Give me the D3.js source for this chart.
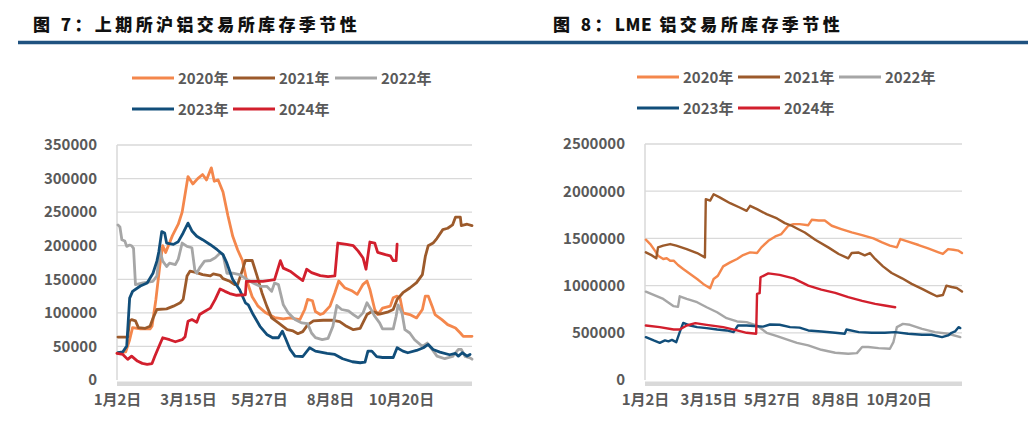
<!DOCTYPE html>
<html><head><meta charset="utf-8">
<script src="https://cdn.jsdelivr.net/npm/d3@7"></script>
<style>
body{margin:0;background:#fff}
svg{display:block;font-family:"Noto Sans CJK SC","Noto Sans",sans-serif}
</style>
</head><body>
<svg id="c" width="1028" height="433"></svg>
<script>
// ---------- data ----------
const years = ["2020年","2021年","2022年","2023年","2024年"];
const colors = ["#F4874C","#9C5A2B","#A6A6A6","#114E7A","#D21F2D"];
const xTickDays = [0,73,146,219,292];
const xTickLabels = ["1月2日","3月15日","5月27日","8月8日","10月20日"];
const shfeTicks = [0,50000,100000,150000,200000,250000,300000,350000];
const lmeTicks = [0,500000,1000000,1500000,2000000,2500000];

// SHFE aluminium stocks: [day since Jan 2, tonnes]
const shfe2020 = [[0,40000],[9,42000],[13,60000],[16,78000],[24,76000],[34,76000],[36,80000],[40,120000],[44,170000],[47,200000],[50,190000],[57,215000],[63,232000],[67,250000],[73,303000],[78,292000],[83,300000],[88,306000],[92,298000],[97,316000],[100,296000],[104,298000],[109,280000],[114,245000],[119,214000],[124,194000],[129,178000],[133,150000],[139,124000],[145,110000],[153,100000],[162,93000],[171,91000],[178,92500],[188,90000],[193,105000],[196,120000],[201,118000],[204,102000],[209,97500],[212,99000],[219,110000],[224,130000],[228,147500],[234,137500],[242,132500],[247,127500],[250,135000],[253,142500],[257,147500],[260,135000],[265,105000],[268,97500],[273,107000],[281,110000],[284,122500],[288,125000],[291,122000],[294,100000],[301,97500],[308,92500],[314,105000],[317,125000],[320,125000],[324,110000],[327,97500],[334,90000],[340,82500],[348,77500],[353,70000],[356,65000],[365,65000]];
const shfe2021 = [[1,64000],[11,64000],[13,88000],[15,90000],[19,88000],[22,78000],[29,77000],[34,80000],[37,92000],[41,105000],[51,106000],[58,110000],[65,115000],[68,120000],[72,155000],[75,162000],[82,160000],[88,157000],[96,155000],[99,158000],[106,156000],[109,151000],[116,147000],[121,142000],[124,142000],[129,164000],[132,178000],[139,178000],[144,155000],[149,130000],[154,110000],[159,92500],[166,85000],[175,75000],[181,73000],[186,69000],[191,72000],[196,82000],[202,88000],[212,89000],[221,89000],[229,87000],[236,80000],[243,75000],[250,77000],[257,97500],[262,102000],[267,100000],[270,98000],[278,101000],[284,105000],[288,120000],[294,130000],[301,137000],[308,145000],[314,157000],[317,184000],[320,200000],[325,204000],[329,211000],[335,224000],[340,226000],[345,231000],[348,242500],[353,242500],[354,230000],[360,232000],[365,230000]];
const shfe2022 = [[1,231000],[3,228000],[5,209000],[8,207000],[10,199000],[13,201000],[15,200000],[17,196000],[19,142000],[27,144500],[37,147000],[41,155000],[44,194000],[47,177000],[51,169000],[54,174000],[60,172000],[63,180000],[67,204000],[72,199000],[77,197000],[80,164000],[82,159000],[85,167000],[90,177000],[96,178000],[101,182000],[106,189000],[109,187000],[113,159000],[119,159000],[126,157000],[134,149500],[140,144500],[147,139500],[154,139500],[159,132000],[162,144500],[166,142000],[171,112000],[176,100000],[183,90000],[190,85000],[196,84000],[200,70000],[204,63000],[211,60000],[217,62000],[222,80000],[226,111000],[231,105000],[238,103000],[243,97500],[248,92500],[253,100000],[257,115000],[262,103000],[265,95000],[270,85000],[273,76000],[279,76000],[284,76000],[287,95000],[289,112000],[293,100000],[296,75000],[301,70000],[306,60000],[314,50000],[319,55000],[324,45500],[329,35600],[337,31700],[345,35000],[351,45500],[354,45500],[358,35000],[363,33000],[365,31000]];
const shfe2023 = [[1,40600],[6,42000],[10,50500],[13,122000],[16,132000],[24,140000],[31,144500],[37,159000],[41,177000],[43,191000],[46,221000],[49,219000],[51,204000],[58,202000],[63,206000],[68,219000],[73,233700],[77,222000],[82,214000],[88,209000],[96,201500],[103,194000],[109,186700],[113,174000],[119,149500],[126,134700],[132,115000],[135,112000],[140,97500],[147,80000],[154,67800],[160,62900],[166,62900],[170,72800],[173,62900],[178,45500],[183,35600],[191,35000],[198,48000],[204,43000],[216,39600],[224,38000],[232,31700],[242,27200],[250,25700],[255,26500],[258,43000],[262,43000],[267,34700],[273,33500],[284,33500],[288,48000],[294,43000],[299,40600],[308,44000],[315,48000],[320,53000],[325,45500],[332,41600],[342,37600],[348,39600],[351,35600],[355,40600],[360,35600],[363,38000]];
const shfe2024 = [[0,39600],[6,38000],[11,30700],[15,35600],[21,28200],[26,24750],[31,23300],[36,24500],[39,35600],[44,53000],[47,62900],[54,60000],[60,57000],[67,60000],[70,64400],[73,87600],[77,90000],[82,86000],[85,97500],[90,102000],[96,107000],[101,120000],[106,135600],[111,132000],[116,128700],[123,126200],[132,127000],[133,147000],[140,147000],[150,147000],[162,149500],[168,177700],[171,166600],[178,162000],[185,154500],[191,148000],[195,165000],[200,160000],[209,155500],[217,154000],[224,155000],[227,204000],[236,202000],[243,200000],[248,192000],[253,181700],[256,165000],[260,205500],[265,204000],[268,190000],[276,186700],[281,185000],[284,177700],[287,177700],[288,202500]];

// LME aluminium stocks: [day since Jan 2, tonnes]
const lme2020 = [[1,1486000],[6,1440000],[12,1363000],[15,1317000],[21,1282000],[25,1290000],[29,1264000],[33,1264000],[38,1218000],[44,1176000],[52,1123000],[60,1070000],[67,1018000],[75,972000],[79,1070000],[84,1105000],[90,1204000],[98,1246000],[106,1282000],[113,1324000],[121,1352000],[129,1345000],[134,1405000],[142,1475000],[150,1521000],[157,1546000],[165,1634000],[171,1651000],[178,1651000],[188,1640000],[192,1697000],[200,1690000],[207,1690000],[215,1634000],[226,1599000],[238,1563000],[250,1535000],[263,1500000],[273,1458000],[282,1423000],[290,1405000],[294,1493000],[303,1465000],[315,1430000],[326,1394000],[338,1352000],[343,1335000],[349,1387000],[355,1380000],[361,1370000],[365,1345000]];
const lme2021 = [[1,1352000],[8,1320000],[13,1289000],[15,1405000],[21,1423000],[29,1440000],[36,1423000],[48,1387000],[60,1345000],[69,1299000],[70,1915000],[75,1900000],[79,1968000],[86,1935000],[98,1873000],[109,1827000],[117,1792000],[121,1845000],[129,1810000],[140,1757000],[152,1711000],[161,1662000],[169,1634000],[175,1605000],[184,1563000],[196,1486000],[211,1405000],[223,1335000],[234,1289000],[238,1345000],[246,1350000],[253,1320000],[259,1345000],[265,1282000],[274,1204000],[284,1134000],[296,1077000],[307,1018000],[319,965000],[328,923000],[336,887000],[343,900000],[347,1000000],[353,985000],[359,975000],[365,937000]];
const lme2022 = [[1,936000],[12,894000],[21,859000],[33,782000],[38,775000],[40,887000],[48,860000],[60,824000],[71,771000],[83,718000],[94,655000],[106,620000],[117,613000],[129,577000],[140,500000],[152,465000],[163,430000],[175,394000],[188,366000],[203,320000],[219,289000],[234,278000],[244,285000],[250,349000],[257,349000],[269,338000],[282,331000],[286,401000],[290,560000],[297,595000],[305,585000],[319,542000],[334,507000],[349,490000],[363,454000]];
const lme2023 = [[1,454000],[10,419000],[17,394000],[23,420000],[27,410000],[31,425000],[36,401000],[40,507000],[44,605000],[52,577000],[60,560000],[71,550000],[83,535000],[94,525000],[102,507000],[107,577000],[117,577000],[129,570000],[136,565000],[144,588000],[155,585000],[167,560000],[178,555000],[188,525000],[203,514000],[219,500000],[230,490000],[232,535000],[246,507000],[261,500000],[276,500000],[288,507000],[303,490000],[319,479000],[330,479000],[342,454000],[349,472000],[353,500000],[357,514000],[361,560000],[363,550000]];
const lme2024 = [[1,577000],[17,560000],[33,535000],[40,535000],[48,577000],[58,602000],[71,584000],[90,560000],[106,525000],[117,500000],[128,490000],[129,912000],[132,920000],[133,1088000],[142,1130000],[155,1113000],[171,1077000],[184,1018000],[188,1000000],[203,958000],[219,923000],[234,877000],[250,838000],[265,806000],[276,789000],[288,771000]];

// ---------- drawing ----------
const svg = d3.select("#c");
const textColor = "#595959";
const gridColor = "#D9D9D9";

// title rule
svg.append("line").attr("x1",18).attr("x2",1028).attr("y1",42.5).attr("y2",42.5)
  .attr("stroke","#1F5280").attr("stroke-width",3.5);

const panels = [
  {title:[["图 7：",3.4],["上期所沪铝交易所库存季节性",3.4]], titleX:33, left:117, right:472, top:145, bottom:380,
   ticks:shfeTicks, series:[shfe2020,shfe2021,shfe2022,shfe2023,shfe2024], labelRight:97,
   legendCols:[132,233,335], legendRows:[78,109], lw:2.8},
  {title:[["图 8：",3.4],["LME",0.5],[" 铝交易所库存季节性",3.4]], titleX:553, left:645, right:962, top:144, bottom:380,
   ticks:lmeTicks, series:[lme2020,lme2021,lme2022,lme2023,lme2024], labelRight:625,
   legendCols:[637,738,839], legendRows:[77,108], lw:2.4}
];

panels.forEach(p => {
  const t = svg.append("text").attr("x",p.titleX).attr("y",31)
    .attr("font-size",17).attr("font-weight",900).attr("fill","#111");
  t.selectAll("tspan").data(p.title).join("tspan")
    .attr("letter-spacing",d=>d[1]).text(d=>d[0]);

  const x = d3.scaleLinear().domain([0,365]).range([p.left,p.right]);
  const y = d3.scaleLinear().domain([0,d3.max(p.ticks)]).range([p.bottom,p.top]);

  // gridlines
  svg.append("g").selectAll("line").data(p.ticks.filter(t=>t>0)).join("line")
    .attr("x1",p.left).attr("x2",p.right).attr("y1",d=>y(d)).attr("y2",d=>y(d))
    .attr("stroke",gridColor).attr("stroke-width",1.3);
  // left axis line
  svg.append("line").attr("x1",p.left).attr("x2",p.left).attr("y1",p.top).attr("y2",p.bottom)
    .attr("stroke",gridColor).attr("stroke-width",1.5);
  // bottom axis band
  svg.append("rect").attr("x",p.left).attr("width",p.right-p.left).attr("y",p.bottom+1.5).attr("height",4.5)
    .attr("fill",gridColor);

  // y axis labels
  const ya = d3.axisLeft(y).tickValues(p.ticks).tickSize(0).tickPadding(0).tickFormat(d3.format("d"));
  const gy = svg.append("g").attr("transform",`translate(${p.labelRight},0)`).call(ya);
  gy.select(".domain").remove();
  gy.selectAll("text").attr("font-size",15).attr("font-weight",700).attr("fill",textColor)
    .attr("font-family",'"Noto Sans CJK SC",sans-serif');

  // x axis labels
  const xa = d3.axisBottom(x).tickValues(xTickDays).tickSize(0).tickPadding(0).tickFormat((d,i)=>xTickLabels[i]);
  const gx = svg.append("g").attr("transform",`translate(0,${p.bottom+14})`).call(xa);
  gx.select(".domain").remove();
  gx.selectAll("text").attr("font-size",15).attr("font-weight",700).attr("fill",textColor)
    .attr("font-family",'"Noto Sans CJK SC",sans-serif');

  // lines
  const line = d3.line().x(d=>x(d[0])).y(d=>y(d[1]));
  p.series.forEach((s,i) => {
    svg.append("path").datum(s).attr("d",line).attr("fill","none")
      .attr("stroke",colors[i]).attr("stroke-width",p.lw)
      .attr("stroke-linejoin","round").attr("stroke-linecap","round");
  });

  // legend
  years.forEach((yr,i) => {
    const cx = p.legendCols[i%3], cy = p.legendRows[Math.floor(i/3)];
    svg.append("line").attr("x1",cx).attr("x2",cx+42).attr("y1",cy).attr("y2",cy)
      .attr("stroke",colors[i]).attr("stroke-width",3);
    svg.append("text").attr("x",cx+46).attr("y",cy+5.5).attr("font-size",15).attr("font-weight",700)
      .attr("fill",textColor).text(yr);
  });
});
</script>
</body></html>
